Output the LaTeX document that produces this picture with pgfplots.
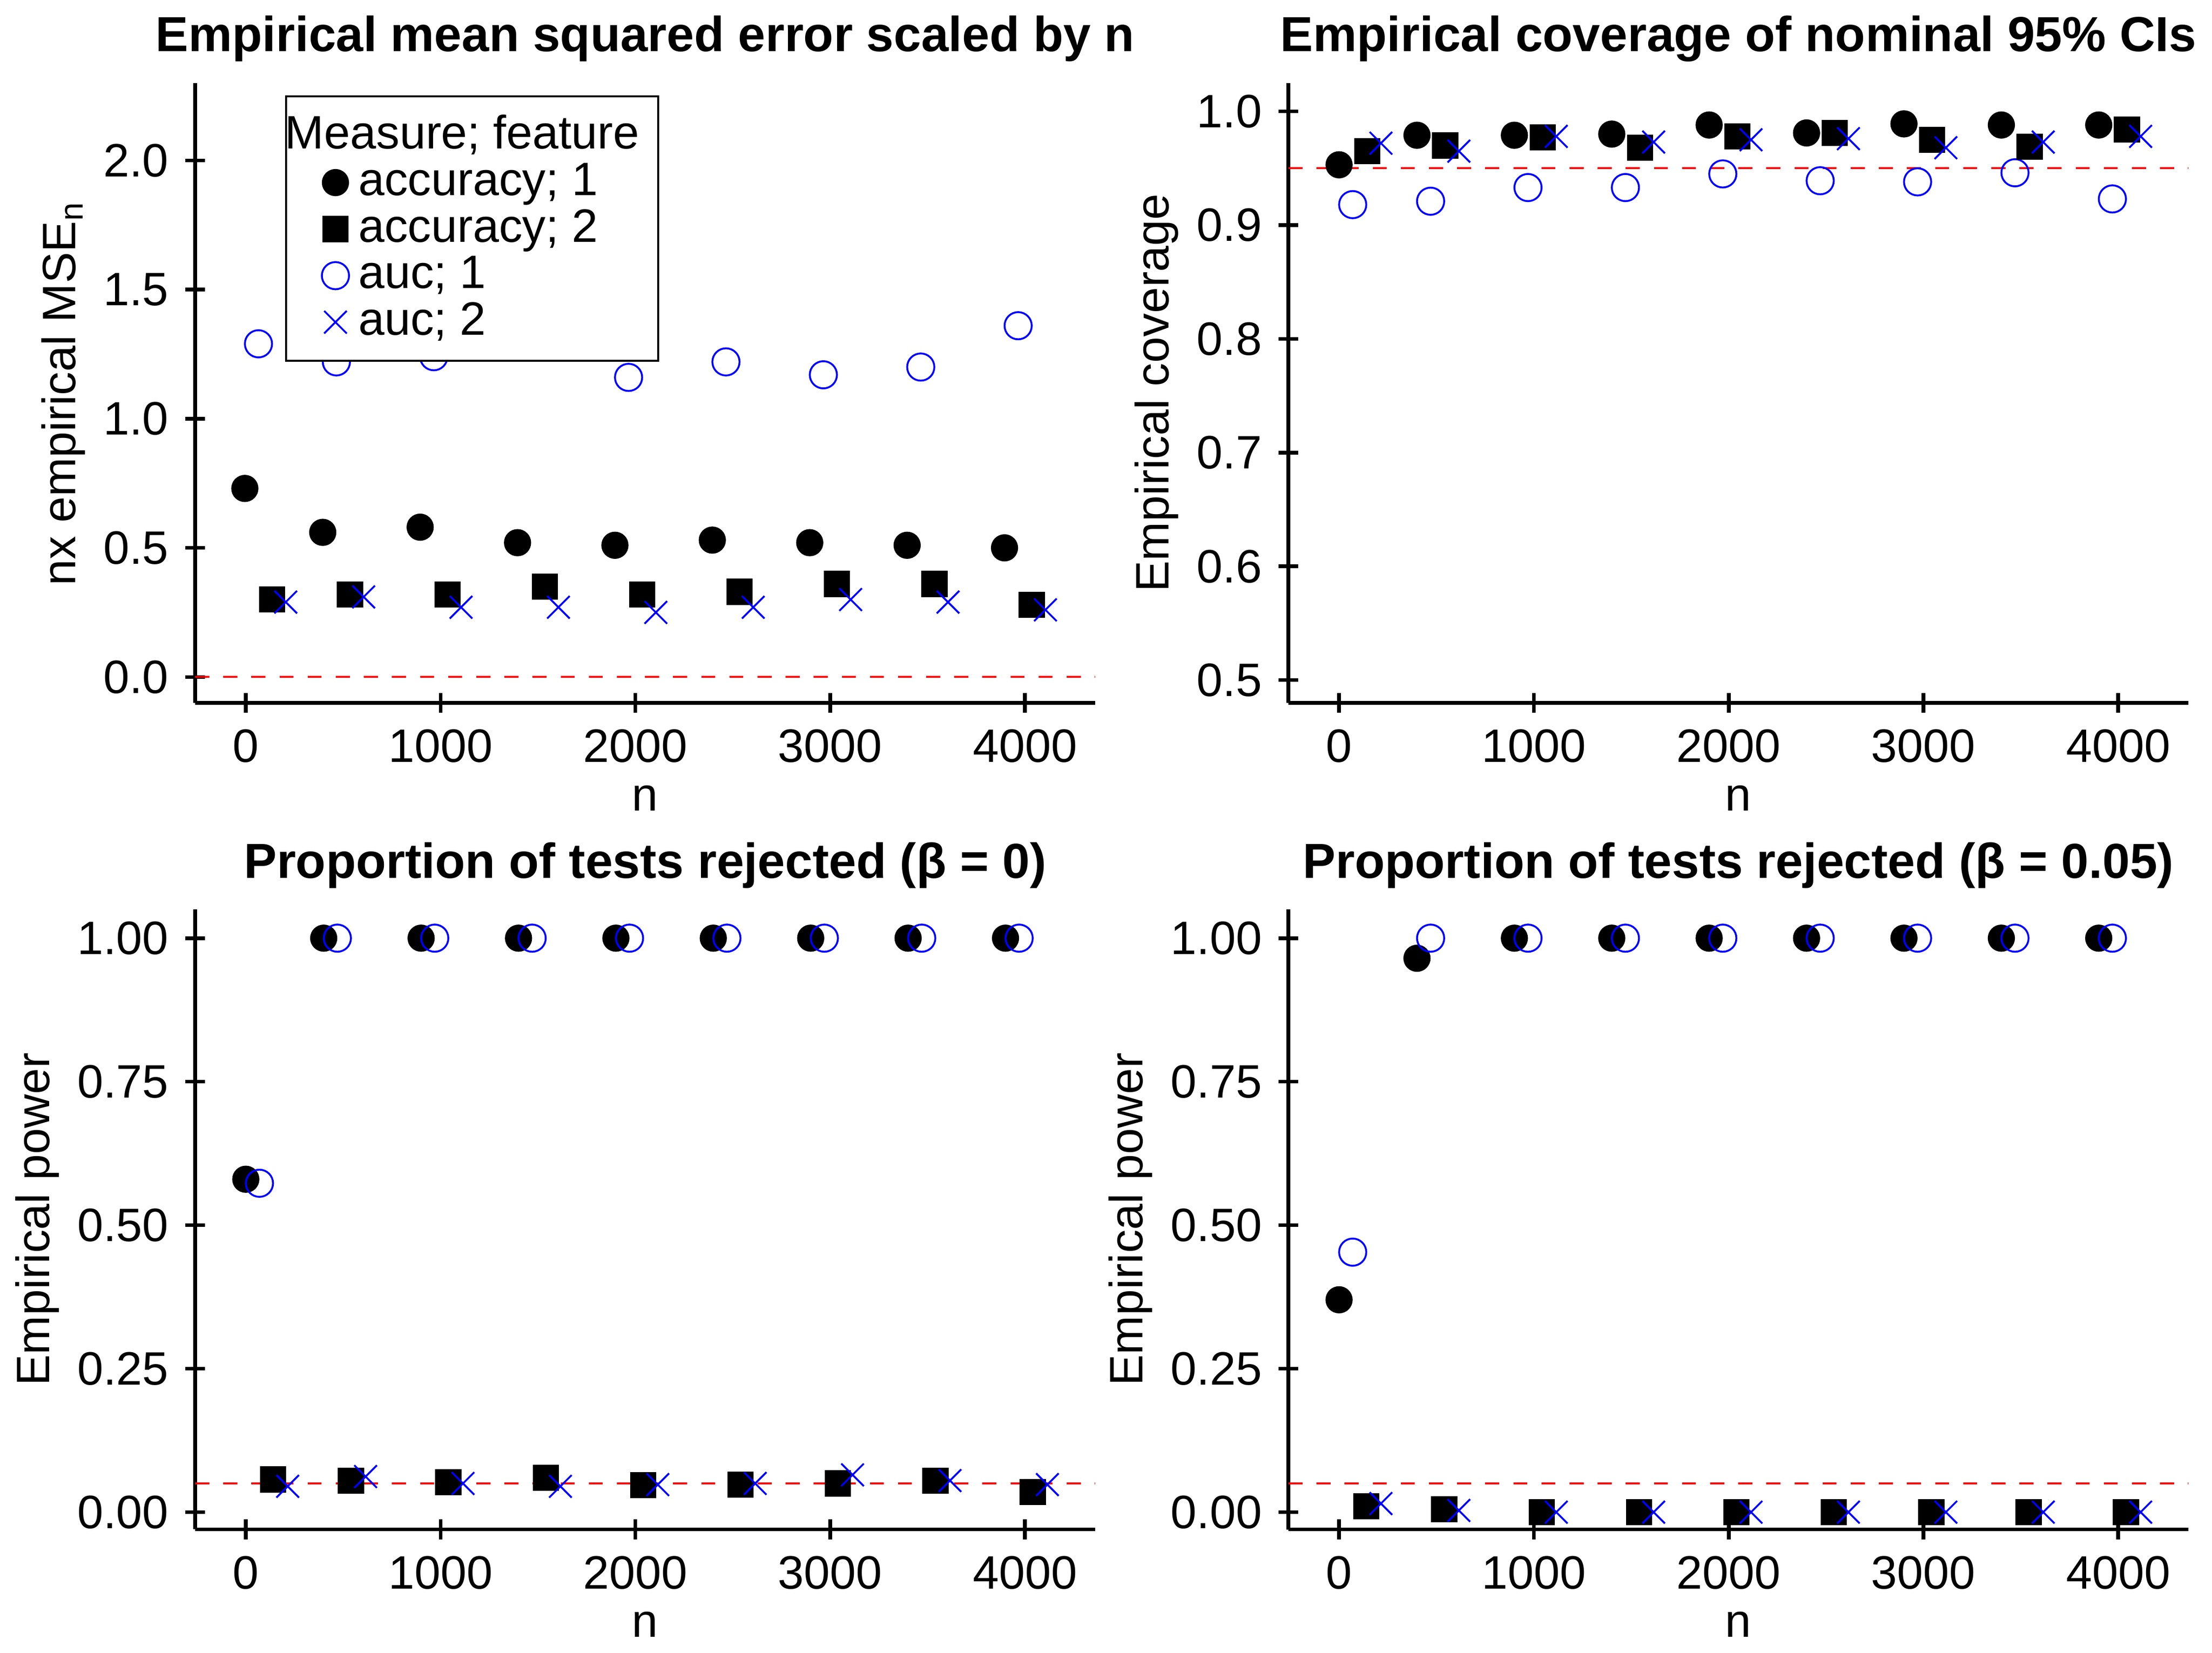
\documentclass[border=0pt]{standalone}
\usepackage{pgfplots}
\pgfplotsset{compat=1.18}
\usepgfplotslibrary{groupplots}
\usepackage{fontspec}
\setmainfont{Liberation Sans}
\begin{document}
\begin{tikzpicture}[font=\fontsize{10}{12}\selectfont]
\pgfplotsset{
  myax/.style={scale only axis, width=6.75cm, height=4.65cm,
    axis lines=left, axis line style={-, thick}, tick style={black, thick},
    xmin=-260, xmax=4360, xtick={0,1000,2000,3000,4000},
    xticklabel style={/pgf/number format/1000 sep={}},
    xlabel={n}, /pgf/number format/assume math mode=true,
    scaled ticks=false, tick label style={font=\fontsize{10}{12}\selectfont},
    title style={font=\fontsize{10.5}{12}\selectfont\bfseries, yshift=-5pt},
    xlabel style={yshift=2pt}, ylabel style={yshift=-3pt},
    clip=false},
  a1/.style={only marks, mark=*, mark size=2.7pt, black},
  a2/.style={only marks, mark=square*, mark size=2.6pt, black},
  u1/.style={only marks, mark=o, mark size=2.9pt, blue},
  u2/.style={only marks, mark=x, mark size=3.4pt, blue},
  ref/.style={red, dashed, thin, no marks, forget plot},
}
\begin{groupplot}[group style={group size=2 by 2, horizontal sep=1.45cm, vertical sep=1.55cm}]
\nextgroupplot[myax, title={Empirical mean squared error scaled by n},
  ymin=-0.1, ymax=2.3, ytick={0,0.5,1,1.5,2}, yticklabel style={/pgf/number format/.cd, fixed, fixed zerofill, precision=1},
  ylabel={nx empirical MSE$_\mathrm{n}$},
  legend style={at={(0.1,0.98)}, anchor=north west, draw=black, font=\fontsize{10}{11}\selectfont, row sep=-2.5pt, inner sep=2pt},
  legend cell align=left]
\addlegendimage{empty legend}\addlegendentry{\hspace{-.55cm}Measure; feature}
\addplot[a1] coordinates {(-5,0.73)(395,0.56)(895,0.58)(1395,0.52)(1895,0.51)(2395,0.53)(2895,0.52)(3395,0.51)(3895,0.50)};
\addlegendentry{accuracy; 1}
\addplot[a2] coordinates {(135,0.30)(535,0.32)(1035,0.32)(1535,0.35)(2035,0.32)(2535,0.33)(3035,0.36)(3535,0.36)(4035,0.28)};
\addlegendentry{accuracy; 2}
\addplot[u1] coordinates {(65,1.29)(465,1.22)(965,1.24)(1465,1.28)(1965,1.16)(2465,1.22)(2965,1.17)(3465,1.20)(3965,1.36)};
\addlegendentry{auc; 1}
\addplot[u2] coordinates {(205,0.29)(605,0.31)(1105,0.27)(1605,0.27)(2105,0.25)(2605,0.27)(3105,0.30)(3605,0.29)(4105,0.26)};
\addlegendentry{auc; 2}
\addplot[ref] coordinates {(-260,0)(4360,0)};

\nextgroupplot[myax, title={Empirical coverage of nominal 95\% CIs},
  ymin=0.48, ymax=1.025, ytick={0.5,0.6,0.7,0.8,0.9,1.0}, yticklabel style={/pgf/number format/.cd, fixed, fixed zerofill, precision=1},
  ylabel={Empirical coverage}]
\addplot[a1] coordinates {(0,0.953)(400,0.979)(900,0.979)(1400,0.980)(1900,0.988)(2400,0.981)(2900,0.989)(3400,0.988)(3900,0.988)};
\addplot[u1] coordinates {(70,0.918)(470,0.921)(970,0.933)(1470,0.933)(1970,0.945)(2470,0.939)(2970,0.938)(3470,0.946)(3970,0.923)};
\addplot[a2] coordinates {(145,0.965)(545,0.970)(1045,0.977)(1545,0.968)(2045,0.978)(2545,0.981)(3045,0.975)(3545,0.969)(4045,0.984)};
\addplot[u2] coordinates {(215,0.972)(615,0.965)(1115,0.978)(1615,0.973)(2115,0.975)(2615,0.976)(3115,0.968)(3615,0.973)(4115,0.978)};
\addplot[ref] coordinates {(-260,0.95)(4360,0.95)};

\nextgroupplot[myax, title={Proportion of tests rejected (β = 0)},
  ymin=-0.03, ymax=1.05, ytick={0,0.25,0.5,0.75,1}, yticklabel style={/pgf/number format/.cd, fixed, fixed zerofill, precision=2},
  ylabel={Empirical power}]
\addplot[a1] coordinates {(0,0.58)(400,1)(900,1)(1400,1)(1900,1)(2400,1)(2900,1)(3400,1)(3900,1)};
\addplot[u1] coordinates {(70,0.573)(470,1)(970,1)(1470,1)(1970,1)(2470,1)(2970,1)(3470,1)(3970,1)};
\addplot[a2] coordinates {(140,0.057)(540,0.055)(1040,0.052)(1540,0.060)(2040,0.047)(2540,0.048)(3040,0.050)(3540,0.055)(4040,0.035)};
\addplot[u2] coordinates {(215,0.045)(615,0.062)(1115,0.050)(1615,0.045)(2115,0.048)(2615,0.050)(3115,0.065)(3615,0.055)(4115,0.048)};
\addplot[ref] coordinates {(-260,0.05)(4360,0.05)};

\nextgroupplot[myax, title={Proportion of tests rejected (β = 0.05)},
  ymin=-0.03, ymax=1.05, ytick={0,0.25,0.5,0.75,1}, yticklabel style={/pgf/number format/.cd, fixed, fixed zerofill, precision=2},
  ylabel={Empirical power}]
\addplot[a1] coordinates {(0,0.37)(400,0.965)(900,1)(1400,1)(1900,1)(2400,1)(2900,1)(3400,1)(3900,1)};
\addplot[u1] coordinates {(70,0.453)(470,1)(970,1)(1470,1)(1970,1)(2470,1)(2970,1)(3470,1)(3970,1)};
\addplot[a2] coordinates {(140,0.01)(540,0.005)(1040,0)(1540,0)(2040,0)(2540,0)(3040,0)(3540,0)(4040,0)};
\addplot[u2] coordinates {(215,0.015)(615,0.003)(1115,0)(1615,0)(2115,0)(2615,0)(3115,0)(3615,0)(4115,0)};
\addplot[ref] coordinates {(-260,0.05)(4360,0.05)};
\end{groupplot}
\end{tikzpicture}
\end{document}
